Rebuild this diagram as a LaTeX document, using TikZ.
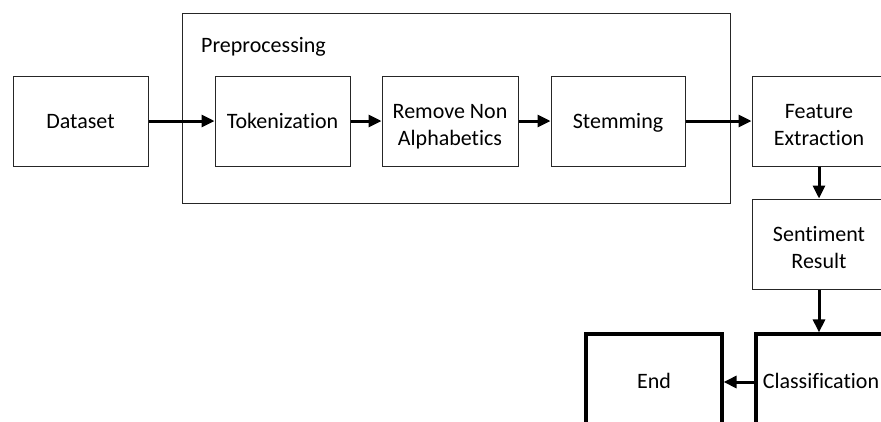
\documentclass[tikz,border=0pt]{standalone}
\usepackage{fontspec}
\setmainfont[Ligatures={NoCommon}]{Carlito}
\usetikzlibrary{arrows.meta}
\begin{document}
\begin{tikzpicture}[x=1pt,y=-1pt,
  box/.style={draw, line width=1pt, draw=black!85, minimum height=90pt, inner sep=0pt, align=center,
    font=\fontsize{22}{27}\selectfont, text height=15pt, text depth=-2pt},
  twoline/.style={text height=49pt, text depth=-2pt},
  thickbox/.style={box, draw=black, line width=3.2pt, text height=15pt, text depth=2pt},
  arr/.style={line width=3pt, -{Triangle[length=13pt,width=12pt]}}]
\useasboundingbox (0,0) rectangle (881,421);
\clip (0,0) rectangle (881,421);
\node[draw, line width=1pt, draw=black!85, minimum width=548pt, minimum height=190pt, inner sep=0pt] (pre) at (456,108) {};
\node[anchor=base west, inner sep=0pt, font=\fontsize{22}{27}\selectfont] (prelbl) at (201,52) {Preprocessing};
\node[box, minimum width=135pt] (data) at (80.5,121) {Dataset};
\node[box, minimum width=135pt] (tok) at (282.5,121) {Tokenization};
\node[box, twoline, minimum width=136pt] (rem) at (450,121) {Remove Non\\Alphabetics};
\node[box, minimum width=134pt] (stem) at (618,121) {Stemming};
\node[box, twoline, minimum width=134pt] (feat) at (819,121) {Feature\\Extraction};
\node[box, twoline, minimum width=134pt] (sent) at (819,244) {Sentiment\\Result};
\node[thickbox, minimum width=130pt, minimum height=96pt] (cls) at (821,382) {Classification};
\node[thickbox, minimum width=136pt, minimum height=96pt] (end) at (654,382) {End};
\draw[arr] (data.east) -- (tok.west);
\draw[arr] (tok.east) -- (rem.west);
\draw[arr] (rem.east) -- (stem.west);
\draw[arr] (stem.east) -- (feat.west);
\draw[arr] (feat.south) -- (sent.north);
\draw[arr] (sent.south) -- (cls.north -| sent.south);
\draw[arr] (cls.west) -- (end.east);
\end{tikzpicture}
\end{document}
